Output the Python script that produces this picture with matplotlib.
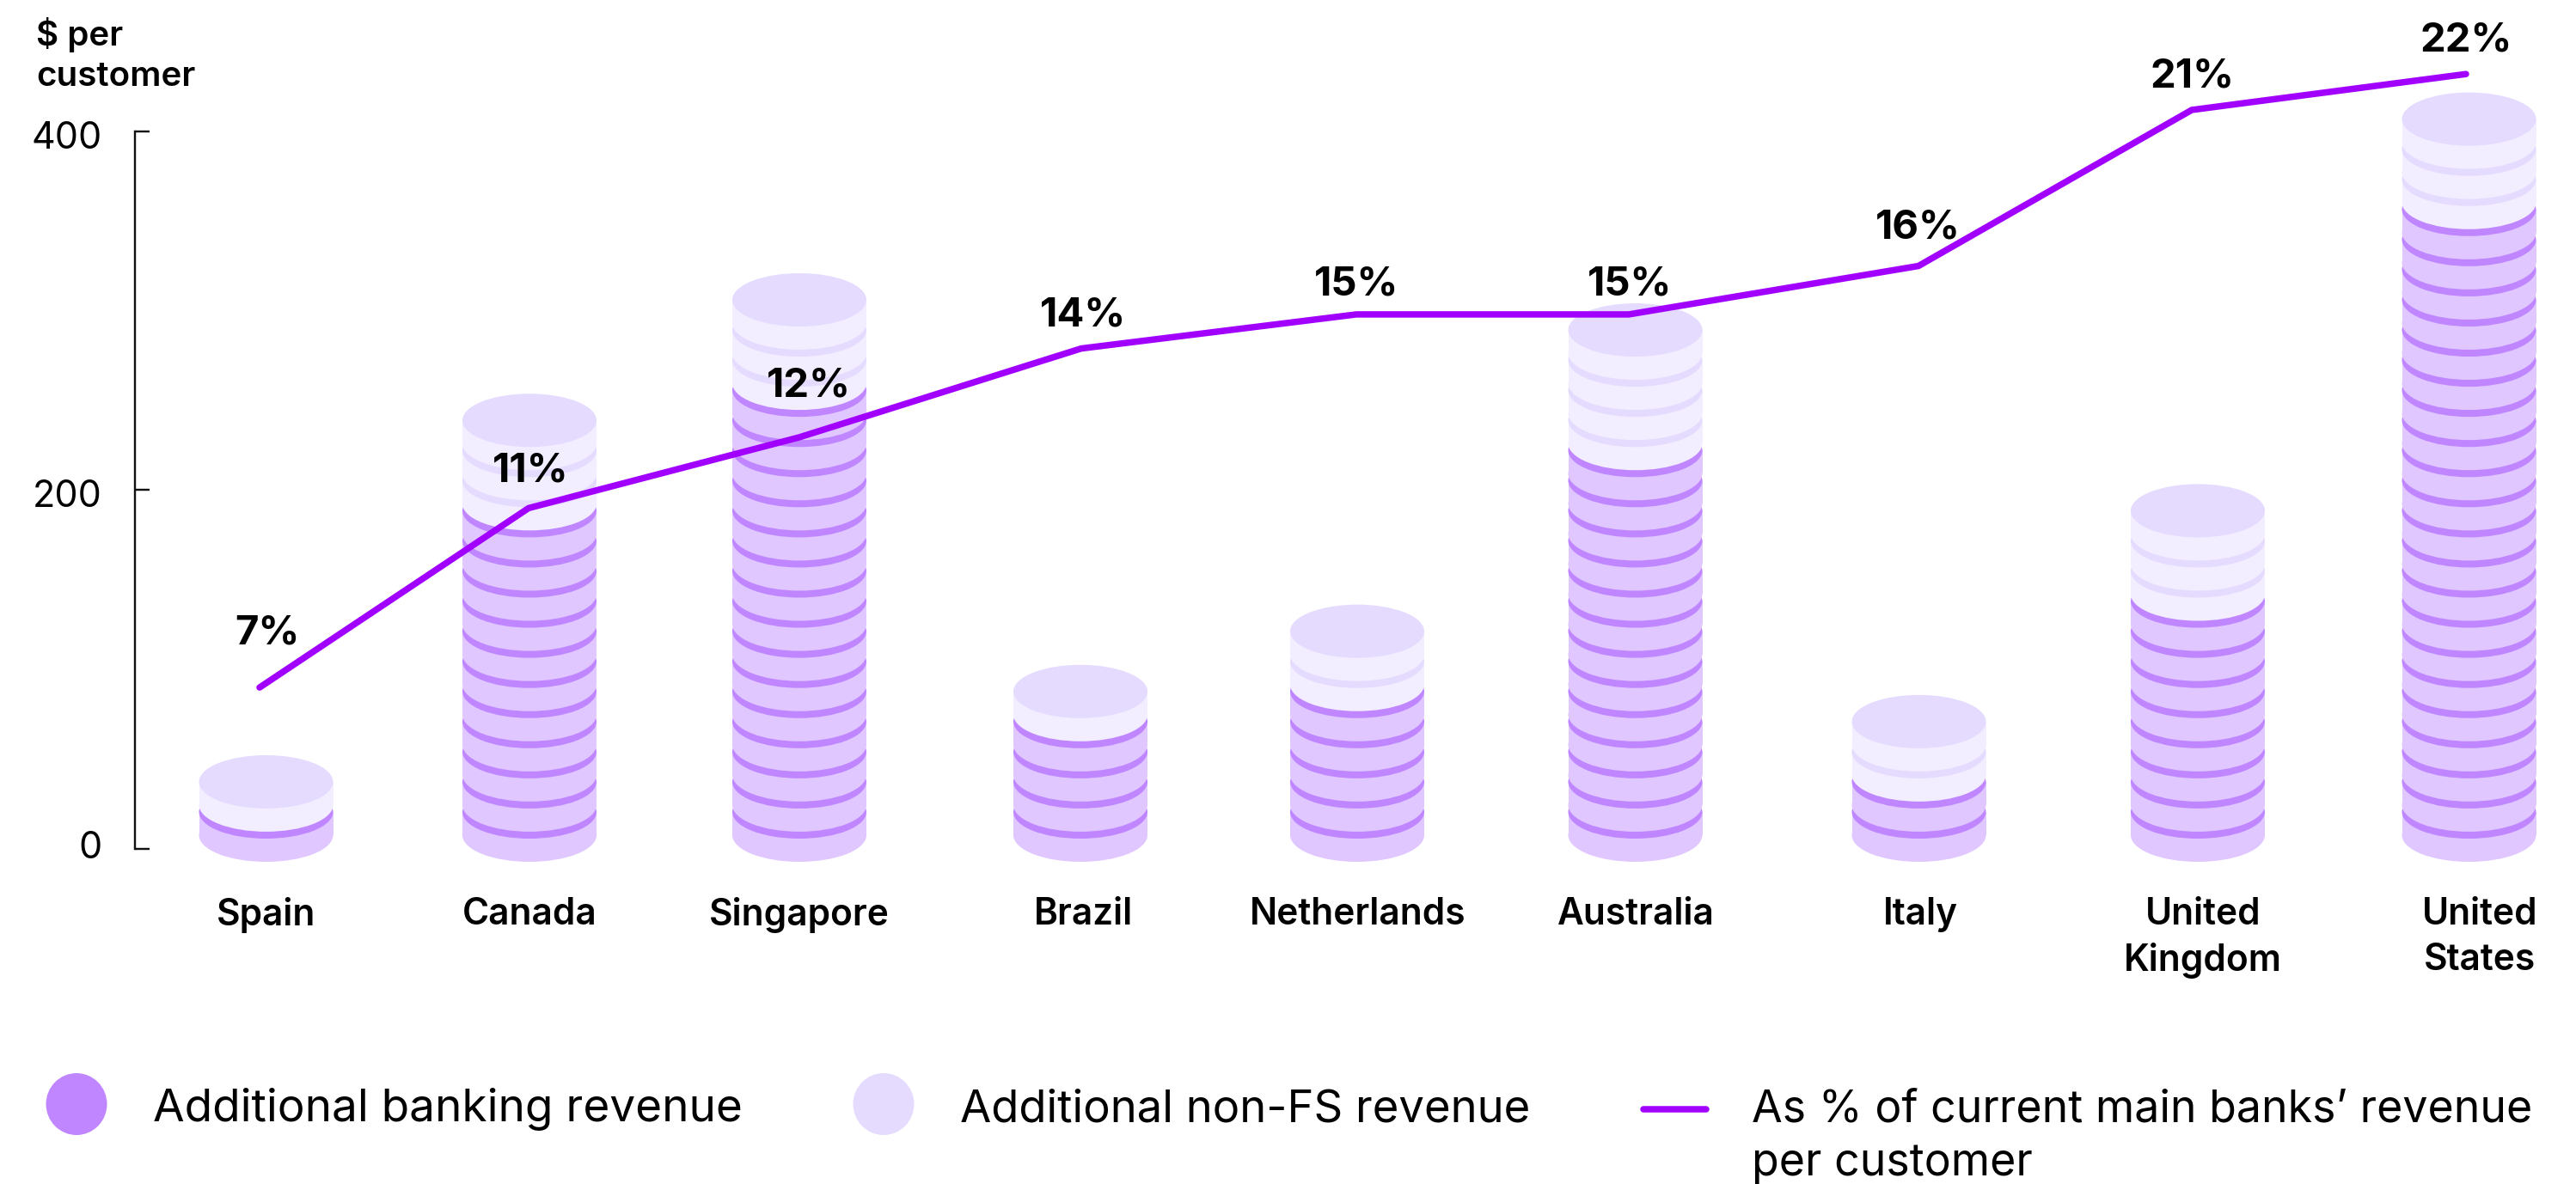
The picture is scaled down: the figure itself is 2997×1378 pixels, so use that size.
import matplotlib
matplotlib.use("Agg")
import matplotlib.pyplot as plt
from matplotlib.patches import Ellipse, Rectangle
from matplotlib.transforms import ScaledTranslation

plt.rcParams['font.family'] = ['Inter', 'DejaVu Sans']

# ---- data ----
categories = ["Spain", "Canada", "Singapore", "Brazil", "Netherlands",
              "Australia", "Italy", "United\nKingdom", "United\nStates"]
banking_discs = [1, 11, 15, 4, 5, 13, 2, 8, 21]
non_fs_discs = [1, 3, 3, 1, 2, 4, 2, 3, 3]
line_height = [90, 190, 229.5, 279, 298, 298, 325, 412, 432]
line_labels = ["7%", "11%", "12%", "14%", "15%", "15%", "16%", "21%", "22%"]
y_ticks = [0, 200, 400]
legend_labels = ["Additional banking revenue", "Additional non-FS revenue",
                 "As % of current main banks\u2019 revenue\nper customer"]

# ---- layout (pixels of the 2997x1378 canvas) ----
W, H = 2997, 1378
DPI = 100
PX = 72 / DPI
stack_x = [309.5, 616, 930, 1257, 1579, 1902.5, 2232.5, 2557, 2872.5]
line_x = [302, 615, 930, 1258, 1578, 1895, 2232, 2550, 2869]
label_x = [310, 616, 930, 1261, 1580, 1903, 2234, 2563, 2885]
pct_xy = [(311, 733), (617, 544), (941, 444), (1260, 362), (1578, 326),
          (1896, 326), (2231, 261), (2551, 84), (2869, 42)]
legend_sizes = [38.2, 37.9, 37.3]
AX_L, Y0_PX, Y400_PX = 156.5, 988, 153
PX_PER_USD = (Y0_PX - Y400_PX) / 400
RX = 78
RY = 31 / PX_PER_USD
DISC_BASE = 16 / PX_PER_USD
DISC_STEP = 35.06 / PX_PER_USD
DISC_BODY = 27 / PX_PER_USD

DARK_BODY, DARK_TOP = "#E0C7FF", "#BF86FF"
LIGHT_BODY, LIGHT_TOP = "#F2EDFF", "#E4DBFF"
LINE = "#A100FF"
INK = "#000000"

fig = plt.figure(figsize=(W / DPI, H / DPI), dpi=DPI, facecolor="white")
ax = fig.add_axes([AX_L / W, 1 - Y0_PX / H, (W - AX_L) / W, (Y0_PX - Y400_PX) / H])
ax.set_xlim(AX_L, W)
ax.set_ylim(0, 400)
ax.patch.set_visible(False)
for s in ("top", "right", "bottom"):
    ax.spines[s].set_visible(False)
ax.spines["left"].set_linewidth(2.4 * PX)
ax.spines["left"].set_color("#111111")


def disc(x, base, body, top):
    ax.add_patch(Ellipse((x, base), 2 * RX, 2 * RY, fc=body, ec="none", clip_on=False, zorder=2))
    ax.add_patch(Rectangle((x - RX, base), 2 * RX, DISC_BODY, fc=body, ec="none", clip_on=False, zorder=2))
    ax.add_patch(Ellipse((x, base + DISC_BODY), 2 * RX, 2 * RY, fc=top, ec="none", clip_on=False, zorder=2))


for x, nb, nn in zip(stack_x, banking_discs, non_fs_discs):
    for k in range(nb + nn):
        if k < nb:
            disc(x, DISC_BASE + k * DISC_STEP, DARK_BODY, DARK_TOP)
        else:
            disc(x, DISC_BASE + k * DISC_STEP, LIGHT_BODY, LIGHT_TOP)

ax.plot(line_x, line_height, color=LINE, lw=7.5 * PX, solid_capstyle="round",
        solid_joinstyle="miter", clip_on=False, zorder=3)

# y axis
ax.set_yticks(y_ticks)
ax.tick_params(axis="y", direction="in", length=17 * PX, width=2.4 * PX, color="#111111",
               pad=38 * PX, labelsize=31, labelcolor=INK)
tick_shift = {0: -5, 200: 4, 400: 4}
for t, lab in zip(y_ticks, ax.get_yticklabels()):
    lab.set_fontweight("normal")
    lab.set_transform(lab.get_transform() + ScaledTranslation(0, -tick_shift[t] / DPI, fig.dpi_scale_trans))

# category labels
ax.set_xticks(label_x, labels=categories)
ax.tick_params(axis="x", length=0, pad=56 * PX, labelsize=30.5, labelcolor=INK)
for lab in ax.get_xticklabels():
    lab.set_fontweight("semibold")
    lab.set_linespacing(1.36)


def ftext(px, py, s, **kw):
    return fig.text(px / W, 1 - py / H, s, color=INK, **kw)


for (px, py), s in zip(pct_xy, line_labels):
    ftext(px, py, s, fontsize=34, fontweight="bold", ha="center", va="center_baseline", zorder=5)

ftext(42, 53, "$ per", fontsize=29, fontweight="semibold", ha="left", va="baseline")
ftext(42, 100, "customer", fontsize=29, fontweight="semibold", ha="left", va="baseline")

# legend
fig.add_artist(Ellipse((89 / W, 1 - 1285 / H), 71 / W, 72 / H, transform=fig.transFigure, fc=DARK_TOP, ec="none"))
fig.add_artist(Ellipse((1028 / W, 1 - 1285 / H), 71 / W, 72 / H, transform=fig.transFigure, fc=LIGHT_TOP, ec="none"))
fig.add_artist(plt.Line2D([1912 / W, 1985 / W], [1 - 1291 / H] * 2, transform=fig.transFigure,
                          color=LINE, lw=7.5 * PX, solid_capstyle="round"))
ftext(178, 1305, legend_labels[0], fontsize=legend_sizes[0], fontweight="normal", ha="left", va="baseline")
ftext(1117, 1305, legend_labels[1], fontsize=legend_sizes[1], fontweight="normal", ha="left", va="baseline")
for i, part in enumerate(legend_labels[2].split("\n")):
    ftext(2038, 1305 + 63 * i, part, fontsize=legend_sizes[2], fontweight="normal", ha="left", va="baseline")

fig.savefig("out.png", dpi=DPI, facecolor="white")
